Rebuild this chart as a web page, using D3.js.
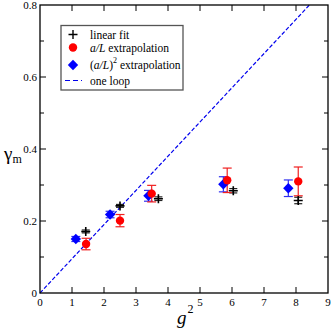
<!DOCTYPE html>
<html><head><meta charset="utf-8">
<script src="https://cdn.jsdelivr.net/npm/d3@7"></script>
<style>body{margin:0;background:#fff}svg{display:block}svg text{font-family:"Liberation Serif","DejaVu Serif","Times New Roman",Times,serif}</style>
</head><body>
<script>
// ---- data ----
const linG2 = [1.43, 2.50, 3.70, 6.04, 8.07];
const linGamma = [0.171, 0.242, 0.262, 0.284, 0.257];
const linErr = [0.004, 0.004, 0.005, 0.006, 0.009];

const aLG2 = [1.44, 2.50, 3.49, 5.85, 8.07];
const aLGamma = [0.136, 0.201, 0.276, 0.313, 0.310];
const aLErr = [0.016, 0.017, 0.023, 0.034, 0.040];

const a2G2 = [1.12, 2.19, 3.39, 5.73, 7.76];
const a2Gamma = [0.150, 0.218, 0.270, 0.302, 0.291];
const a2Err = [0.007, 0.009, 0.015, 0.021, 0.023];

const oneLoopG2 = [0, 8.42];
const oneLoopGamma = [0, 0.8];

const xTicks = [0,1,2,3,4,5,6,7,8,9];
const yMajor = [0, 0.2, 0.4, 0.6, 0.8];
const yMinor = [0.1, 0.3, 0.5, 0.7];
const legendLabels = ["linear fit", "a/L extrapolation", "(a/L)2 extrapolation", "one loop"];

// ---- layout ----
const W = 332, H = 333;
const m = {l: 40, r: 4, t: 5, b: 40};
const svg = d3.select("body").append("svg").attr("width", W).attr("height", H);
const x = d3.scaleLinear().domain([0, 9]).range([m.l, W - m.r]);
const y = d3.scaleLinear().domain([0, 0.8]).range([H - m.b, m.t]);

const x0 = x(0), x1 = x(9), y0 = y(0), y1 = y(0.8);

// one loop line (under markers)
const line = d3.line().x(d => x(d[0])).y(d => y(d[1]));
svg.append("path").datum(oneLoopG2.map((g, i) => [g, oneLoopGamma[i]]))
  .attr("d", line).attr("fill", "none").attr("stroke", "#0000ee")
  .attr("stroke-width", 1.2).attr("stroke-dasharray", "4,2");

// error bars
function errBars(gs, vs, es, color, capW) {
  const g = svg.append("g").attr("stroke", color).attr("stroke-width", 1.2).attr("fill", "none");
  gs.forEach((gg, i) => {
    const cx = x(gg), top = y(vs[i] + es[i]), bot = y(vs[i] - es[i]);
    g.append("line").attr("x1", cx).attr("x2", cx).attr("y1", top).attr("y2", bot);
    g.append("line").attr("x1", cx - capW).attr("x2", cx + capW).attr("y1", top).attr("y2", top);
    g.append("line").attr("x1", cx - capW).attr("x2", cx + capW).attr("y1", bot).attr("y2", bot);
  });
}
errBars(linG2, linGamma, linErr, "#222", 4);
errBars(a2G2, a2Gamma, a2Err, "#3030f0", 4.5);
errBars(aLG2, aLGamma, aLErr, "#f02020", 4.5);

// markers
const cross = (cx, cy, s) => `M${cx - s},${cy}H${cx + s}M${cx},${cy - s}V${cy + s}`;
const diamond = (cx, cy, s) => `M${cx},${cy - s}L${cx + s},${cy}L${cx},${cy + s}L${cx - s},${cy}Z`;

svg.append("g").selectAll("path").data(linG2).join("path")
  .attr("d", (d, i) => cross(x(d), y(linGamma[i]), 4.5))
  .attr("stroke", "#000").attr("stroke-width", 1.6).attr("fill", "none");
svg.append("g").selectAll("path").data(a2G2).join("path")
  .attr("d", (d, i) => diamond(x(d), y(a2Gamma[i]), 5.2)).attr("fill", "#0000ff");
svg.append("g").selectAll("circle").data(aLG2).join("circle")
  .attr("cx", d => x(d)).attr("cy", (d, i) => y(aLGamma[i])).attr("r", 4.2).attr("fill", "#ff0000");

// frame
svg.append("rect").attr("x", x0).attr("y", y1).attr("width", x1 - x0).attr("height", y0 - y1)
  .attr("fill", "none").attr("stroke", "#000").attr("stroke-width", 1.3);

// ticks
const tg = svg.append("g").attr("stroke", "#000").attr("stroke-width", 1);
xTicks.slice(1, -1).forEach(t => {
  tg.append("line").attr("x1", x(t)).attr("x2", x(t)).attr("y1", y0).attr("y2", y0 - 6);
  tg.append("line").attr("x1", x(t)).attr("x2", x(t)).attr("y1", y1).attr("y2", y1 + 6);
});
yMajor.slice(1, -1).forEach(t => {
  tg.append("line").attr("x1", x0).attr("x2", x0 + 6).attr("y1", y(t)).attr("y2", y(t));
  tg.append("line").attr("x1", x1).attr("x2", x1 - 6).attr("y1", y(t)).attr("y2", y(t));
});
yMinor.forEach(t => {
  tg.append("line").attr("x1", x0).attr("x2", x0 + 4).attr("y1", y(t)).attr("y2", y(t));
  tg.append("line").attr("x1", x1).attr("x2", x1 - 4).attr("y1", y(t)).attr("y2", y(t));
});

// tick labels
svg.append("g").selectAll("text").data(xTicks).join("text")
  .attr("x", d => x(d)).attr("y", y0 + 13).attr("text-anchor", "middle")
  .attr("font-size", 11).text(d => d);
svg.append("g").selectAll("text").data(yMajor).join("text")
  .attr("x", x0 - 3).attr("y", d => y(d) + 4).attr("text-anchor", "end")
  .attr("font-size", 11).text(d => d === 0 ? "0" : d.toFixed(1));

// axis titles
const yl = svg.append("text").attr("x", 4).attr("y", 160).attr("font-size", 19);
yl.append("tspan").text("γ");
yl.append("tspan").attr("font-size", 12).attr("dy", 3).text("m");
const xl = svg.append("text").attr("x", 177).attr("y", 324).attr("font-size", 19).attr("font-style", "italic");
xl.append("tspan").text("g");
xl.append("tspan").attr("font-size", 12).attr("font-style", "normal").attr("dy", -11).attr("dx", 1).text("2");

// legend
const lg = svg.append("g");
lg.append("rect").attr("x", 61).attr("y", 25.5).attr("width", 122).attr("height", 64.5)
  .attr("fill", "#fff").attr("stroke", "#555").attr("stroke-width", 1.3);
const ly = [34.5, 47.5, 65, 80.5];
const sx = 73, tx = 90;
lg.append("path").attr("d", cross(sx, ly[0], 4.5)).attr("stroke", "#000").attr("stroke-width", 1.4);
lg.append("circle").attr("cx", sx).attr("cy", ly[1]).attr("r", 4.2).attr("fill", "#ff0000");
lg.append("path").attr("d", diamond(sx, ly[2], 5.2)).attr("fill", "#0000ff");
lg.append("line").attr("x1", sx - 8).attr("x2", sx + 9).attr("y1", ly[3]).attr("y2", ly[3])
  .attr("stroke", "#0000ee").attr("stroke-width", 1.2).attr("stroke-dasharray", "5,3");
const txt = (i) => lg.append("text").attr("x", tx).attr("y", ly[i] + 4).attr("font-size", 11.5);
txt(0).text(legendLabels[0]);
const t1 = txt(1); t1.append("tspan").attr("font-style", "italic").text("a/L"); t1.append("tspan").text(" extrapolation");
const t2 = txt(2); t2.append("tspan").text("(");
t2.append("tspan").attr("font-style", "italic").text("a/L");
t2.append("tspan").text(")");
t2.append("tspan").attr("font-size", 8).attr("dy", -6).text("2");
t2.append("tspan").attr("dy", 6).text(" extrapolation");
txt(3).text(legendLabels[3]);
</script>
</body></html>
